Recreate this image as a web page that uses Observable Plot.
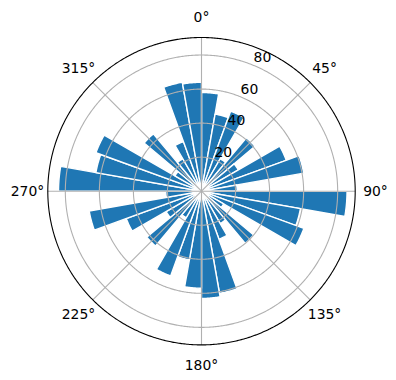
<!DOCTYPE html>
<html>
<head>
<meta charset="utf-8">
<script src="https://cdn.jsdelivr.net/npm/d3@7"></script>
<script src="https://cdn.jsdelivr.net/npm/@observablehq/plot@0.6"></script>
<style>
  html, body { margin: 0; padding: 0; background: #fff; }
</style>
</head>
<body>
<div id="chart"></div>
<script>
// ---- data ----
const binStarts = d3.range(0, 360, 10);           // bin start angle (deg, clockwise from north)
const binWidth = 10;
const radii = [58, 46, 50, 22, 41, 25, 53, 61, 21, 85.5, 59, 64, 15, 40, 22, 30, 61, 63,
               57, 41, 53, 18, 42, 24, 47, 67, 21, 84, 63, 66, 18, 44, 22, 31, 65, 64];
const thetaTicks = [0, 45, 90, 135, 180, 225, 270, 315];
const thetaLabels = ["0°", "45°", "90°", "135°", "180°", "225°", "270°", "315°"];
const rTicks = [20, 40, 60, 80];
const rTickLabels = ["20", "40", "60", "80"];
const rMax = 90.3;

// ---- polar mapping onto a pole-centred azimuthal projection ----
const S = 0.1;                     // degrees of colatitude per radial unit
const lon = t => 180 - t;          // compass angle -> longitude
const lat = r => 90 - r * S;       // radius -> latitude
const labelR = rMax * 174 / 153.7; // theta label radius
const rLabelAngle = 22.5;

function wedge(t0, t1, r) {
  const n = 16, r0 = 0.01;
  const outer = d3.range(n + 1).map(i => [lon(t0 + (t1 - t0) * i / n), lat(r)]);
  const inner = d3.range(n + 1).map(i => [lon(t1 - (t1 - t0) * i / n), lat(r0)]);
  const ring = [...outer, ...inner, outer[0]];
  const f = {type: "Feature", properties: {}, geometry: {type: "Polygon", coordinates: [ring]}};
  if (d3.geoArea(f) > 2 * Math.PI) ring.reverse();
  return f;
}

const bars = binStarts.map((t, i) => wedge(t, t + binWidth, radii[i]));
const circle = r => d3.geoCircle().center([0, 90]).radius(r * S).precision(0.5)();

const chart = Plot.plot({
  width: 396,
  height: 380,
  marginLeft: 47.3,
  marginRight: 41.3,
  marginTop: 37,
  marginBottom: 35.6,
  projection: {
    type: "azimuthal-equidistant",
    rotate: [0, -90],
    domain: circle(rMax),
    inset: 0,
    clip: false
  },
  style: {fontFamily: "'DejaVu Sans', sans-serif", background: "white", overflow: "visible"},
  marks: [
    Plot.geo(bars, {fill: "#1f77b4", stroke: "white", strokeWidth: 1.4}),
    Plot.geo(rTicks.map(r => circle(r)), {fill: "none", stroke: "#b0b0b0", strokeWidth: 1.1}),
    Plot.link(thetaTicks, {
      x1: t => lon(t), y1: lat(0.001), x2: t => lon(t), y2: lat(rMax),
      stroke: "#b0b0b0", strokeWidth: 1.1
    }),
    Plot.geo(circle(rMax), {fill: "none", stroke: "black", strokeWidth: 1.1}),
    Plot.text(thetaTicks, {
      x: t => lon(t), y: lat(labelR), text: (t, i) => thetaLabels[i],
      textAnchor: "middle", lineAnchor: "middle", fontSize: 13.9, fill: "black"
    }),
    Plot.text(rTicks, {
      x: lon(rLabelAngle), y: r => lat(r), text: (r, i) => rTickLabels[i],
      textAnchor: "start", lineAnchor: "bottom", dy: -3, fontSize: 13.9, fill: "black"
    })
  ]
});
document.getElementById("chart").appendChild(chart);
</script>
</body>
</html>
